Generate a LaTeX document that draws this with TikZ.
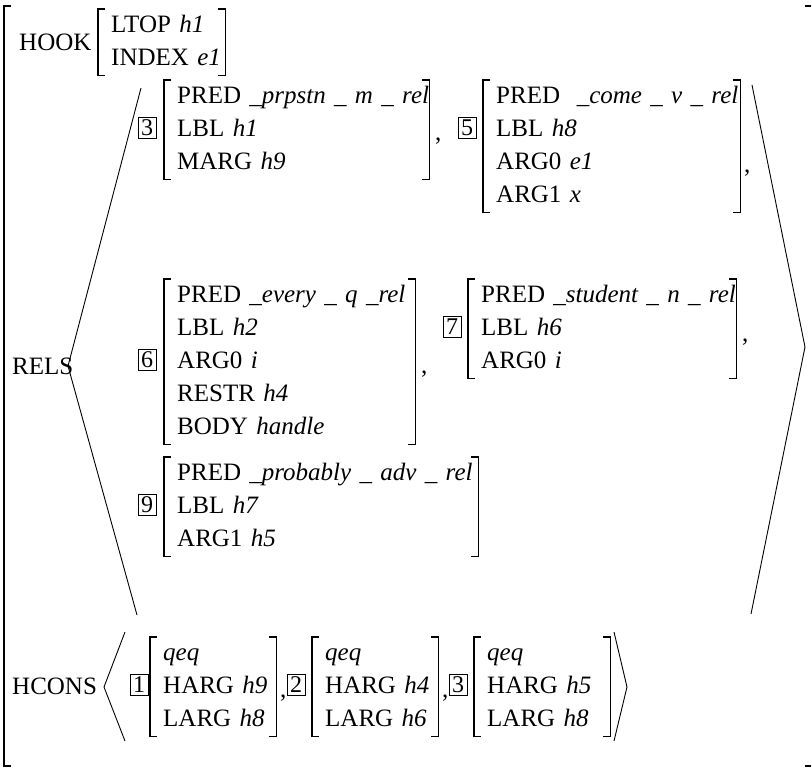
\documentclass[tikz,border=0pt]{standalone}
\usepackage{fontspec}
\setmainfont{Liberation Serif}
\newcommand\av[2]{\mbox{\strut#1 \textit{#2}}}
\tikzset{
	avm/.style={anchor=north west,align=left,inner xsep=6pt,inner ysep=0pt,text width=#1},
	tag/.style={draw,line width=0.9pt,inner xsep=3pt,inner ysep=2.5pt,font=\fontsize{24}{24}\selectfont},
	brk/.style={line width=1.1pt},
	lab/.style={anchor=base west,inner sep=0pt}
}
\begin{document}
\begin{tikzpicture}[x=1pt,y=-1pt,font=\fontsize{25}{33}\selectfont]
	  \useasboundingbox (0,0) rectangle (812,772);
	  \draw [brk] (11,6) -- (4,6) -- (4,766) -- (11,766);
	  \draw [brk] (805,6) -- (811,6) (805,766) -- (811,766);
	  \node [lab] at (19,50) (hook) {HOOK};
	  \node [lab] at (12,374) (rels) {RELS};
	  \node [lab] at (12,694) (hcons) {HCONS};
	  \node [avm=108] at (105,9) (h) {\av{LTOP}{h1}\\\av{INDEX}{e1}};
	  % RELS list
	  \node [avm=246] at (171,80) (r3) {\av{PRED}{\_prpstn \_ m \_ rel}\\\av{LBL}{h1}\\\av{MARG}{h9}};
	  \node [avm=238] at (490,80) (r5) {\av{PRED\ }{\_come \_ v \_ rel}\\\av{LBL}{h8}\\\av{ARG0}{e1}\\\av{ARG1}{x}};
	  \node [avm=232] at (171,279) (r6) {\av{PRED}{\_every \_ q \_rel}\\\av{LBL}{h2}\\\av{ARG0}{i}\\\av{RESTR}{h4}\\\av{BODY}{handle}};
	  \node [avm=249] at (475,279) (r7) {\av{PRED}{\_student \_ n \_ rel}\\\av{LBL}{h6}\\\av{ARG0}{i}};
	  \node [avm=295] at (171,457) (r9) {\av{PRED}{\_probably \_ adv \_ rel}\\\av{LBL}{h7}\\\av{ARG1}{h5}};
	  % HCONS list
	  \foreach \q/\x/\w/\h/\l in {q1/157/107/h9/h8, q2/319/107/h4/h6, q3/481/117/h5/h8}{
	  	\node [avm=\w] at (\x,637) (\q) {\strut\textit{qeq}\\\av{HARG}{\h}\\\av{LARG}{\l}};
	  }
	  \foreach \t/\n/\x/\y in {t3/3/147/128, t5/5/467/128, t6/6/147/360, t7/7/452/327, t9/9/147/505, t1/1/139/685, t2/2/296/685, t3b/3/458/685}{
	  	\node [tag] at (\x,\y) (\t) {\n};
	  }
	  \foreach \x/\y in {435/140, 744/172, 421/373, 742/341, 280/697, 442/697}{
	  	\node [lab] at (\x,\y) {,};
	  }
	  \foreach \n in {h,r3,r5,r6,r7,r9,q1,q2,q3}{
	  	\draw [brk] (\n.north west) -- ++(-7,0) |- (\n.south west);
	  	\draw [brk] ([xshift=-7pt]\n.north east) -- (\n.north east) -- (\n.south east) -- ++(-7,0);
	  }
	  \draw [line width=0.9pt] (141,88) -- (68,366) -- (137,615) (752,85) -- (805,347) -- (751,614);
	  \draw [line width=0.9pt] (125,632) -- (104,687) -- (125,741) (614,632) -- (627,687) -- (614,741);
\end{tikzpicture}
\end{document}
